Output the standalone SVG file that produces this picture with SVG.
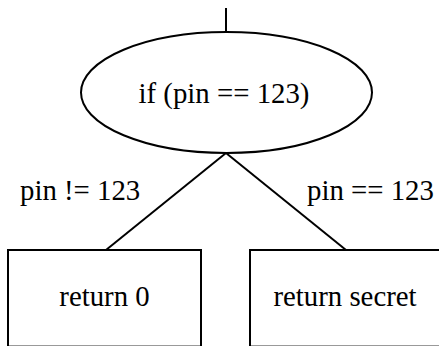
<svg xmlns="http://www.w3.org/2000/svg" width="439" height="346" viewBox="0 0 439 346">
<style>
.s{fill:#fff;stroke:#000;stroke-width:2}
.l{stroke:#000;stroke-width:2;fill:none}
text{font-family:"Liberation Serif",serif;font-size:28.8px;fill:#000}
.m{text-anchor:middle}
</style>
<rect width="439" height="346" fill="#fff"/>
<g id="connectors">
<line class="l" x1="226" y1="8" x2="226" y2="32"/>
<line class="l" x1="226" y1="153" x2="106" y2="250"/>
<line class="l" x1="226" y1="153" x2="346" y2="250"/>
<text x="20" y="200">pin != 123</text>
<text x="307" y="200">pin == 123</text>
</g>
<g id="cond">
<ellipse class="s" cx="226.5" cy="92.5" rx="145.5" ry="60.5"/>
<text class="m" x="224" y="103">if (pin == 123)</text>
</g>
<g id="ret0">
<rect class="s" x="8" y="250" width="193" height="96.6"/>
<text class="m" x="104.5" y="306">return 0</text>
</g>
<g id="retsecret">
<rect class="s" x="250" y="250" width="200" height="96.6"/>
<text class="m" x="345" y="306">return secret</text>
</g>
</svg>
